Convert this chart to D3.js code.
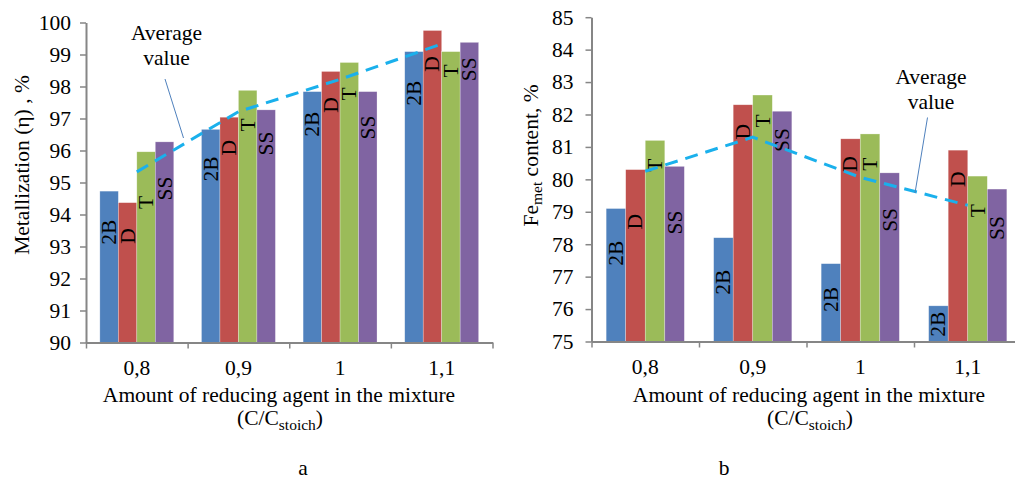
<!DOCTYPE html>
<html>
<head>
<meta charset="utf-8">
<script src="https://cdn.jsdelivr.net/npm/d3@7"></script>
<style>
  html, body { margin: 0; padding: 0; background: #fff; }
  svg { display: block; }
  text { font-family: "Liberation Serif", "Times New Roman", serif; fill: #000; }
</style>
</head>
<body>
<svg id="chart" width="1015" height="481"></svg>
<script>
// Reducing agent amount (C/C_stoich) and coal types
const categories = ["0,8", "0,9", "1", "1,1"];
const seriesNames = ["2B", "D", "T", "SS"];

// (a) Metallization, %
const metal2B = [94.73, 96.66, 97.84, 99.09];
const metalD  = [94.37, 97.04, 98.47, 99.75];
const metalT  = [95.96, 97.88, 98.75, 99.09];
const metalSS = [96.27, 97.27, 97.84, 99.38];

// (b) Metallic iron content, %
const fe2B = [79.1, 78.2, 77.4, 76.1];
const feD  = [80.3, 82.3, 81.25, 80.9];
const feT  = [81.2, 82.6, 81.4, 80.1];
const feSS = [80.4, 82.1, 80.2, 79.7];

const yTicksA = [90, 91, 92, 93, 94, 95, 96, 97, 98, 99, 100];
const yTicksB = [75, 76, 77, 78, 79, 80, 81, 82, 83, 84, 85];

// Where each rotated series label sits along its bar (value units)
const labelSpotA = [
  [93.45, 95.42, 96.82, 97.79],
  [93.33, 96.09, 97.42, 98.70],
  [94.38, 96.80, 97.77, 98.49],
  [94.81, 96.22, 96.72, 98.54]
];
const labelSpotB = [
  [77.72, 76.83, 76.30, 75.53],
  [78.69, 81.47, 80.47, 80.00],
  [80.44, 81.80, 80.47, 79.03],
  [78.67, 81.21, 78.75, 78.50]
];

const colors = ["#4F81BD", "#C0504D", "#9BBB59", "#8064A2"];
const axisColor = "#868686";
const avgColor = "#1AB0EC";
const FS = 21.5;

const svg = d3.select("#chart");

function drawPanel(cfg) {
  const g = svg.append("g");
  const x = d3.scaleBand().domain(categories).range(cfg.xRange).padding(0);
  const bw = x.bandwidth();
  const xs = d3.scaleBand().domain(seriesNames)
    .range([bw * 0.75 / 5.5, bw * 4.75 / 5.5]).padding(0);
  const y = d3.scaleLinear().domain(cfg.yDomain).range(cfg.yRange);

  // bars
  cfg.series.forEach((vals, si) => {
    g.append("g").selectAll("rect").data(vals).join("rect")
      .attr("x", (d, i) => x(categories[i]) + xs(seriesNames[si]))
      .attr("width", xs.bandwidth())
      .attr("y", d => y(d))
      .attr("height", d => y(cfg.yDomain[0]) - y(d))
      .attr("fill", colors[si])
      .attr("stroke", "rgba(255,255,255,0.45)")
      .attr("stroke-width", 0.6);
  });

  // rotated series labels inside bars
  cfg.series.forEach((vals, si) => {
    g.append("g").selectAll("text").data(vals).join("text")
      .attr("transform", (d, i) => {
        const cx = x(categories[i]) + xs(seriesNames[si]) + xs.bandwidth() / 2;
        return `translate(${cx},${y(cfg.labelSpot[si][i])}) rotate(-90)`;
      })
      .attr("text-anchor", "middle")
      .attr("dominant-baseline", "central")
      .style("font-size", FS + "px")
      .text(seriesNames[si]);
  });

  // y axis
  const yAxis = g.append("g")
    .attr("transform", `translate(${cfg.xRange[0]},0)`)
    .call(d3.axisLeft(y).tickValues(cfg.yTicks).tickFormat(d3.format("d"))
      .tickSize(6).tickSizeOuter(0).tickPadding(cfg.tickPad));
  yAxis.select(".domain").attr("stroke", axisColor).attr("stroke-width", 2);
  yAxis.selectAll(".tick line").attr("stroke", axisColor).attr("stroke-width", 1.5);
  yAxis.selectAll(".tick text").style("font-size", FS + "px")
    .style("font-family", "Liberation Serif").attr("fill", "#000");

  // x axis: boundary ticks between categories
  const xEdge = d3.scaleLinear().domain([0, categories.length]).range(cfg.xRange);
  const xAxis = g.append("g")
    .attr("transform", `translate(0,${y(cfg.yDomain[0])})`)
    .call(d3.axisBottom(xEdge).tickValues(d3.range(categories.length + 1))
      .tickFormat("").tickSize(6).tickSizeOuter(0));
  xAxis.select(".domain").attr("stroke", axisColor).attr("stroke-width", 2);
  xAxis.selectAll(".tick line").attr("stroke", axisColor).attr("stroke-width", 1.5);

  // category labels
  const xLab = g.append("g")
    .attr("transform", `translate(0,${y(cfg.yDomain[0])})`)
    .call(d3.axisBottom(x).tickSize(0).tickPadding(0));
  xLab.select(".domain").remove();
  xLab.selectAll(".tick text")
    .attr("y", cfg.catBaseline - y(cfg.yDomain[0]))
    .attr("dy", 0)
    .style("font-size", FS + "px")
    .style("font-family", "Liberation Serif").attr("fill", "#000");

  // average line across coal types
  const avg = categories.map((c, i) => d3.mean(cfg.series, s => s[i]));
  g.append("path")
    .datum(avg)
    .attr("fill", "none")
    .attr("stroke", avgColor)
    .attr("stroke-width", 3)
    .attr("stroke-dasharray", "13,8")
    .attr("d", d3.line().x((d, i) => x(categories[i]) + bw / 2).y(d => y(d)));

  // annotation
  g.append("line")
    .attr("x1", cfg.pointer[0]).attr("y1", cfg.pointer[1])
    .attr("x2", cfg.pointer[2]).attr("y2", cfg.pointer[3])
    .attr("stroke", "#4F81BD").attr("stroke-width", 1);
  const ann = g.append("text").attr("text-anchor", "middle").style("font-size", FS + "px");
  ann.append("tspan").attr("x", cfg.annX).attr("y", cfg.annY).text("Average");
  ann.append("tspan").attr("x", cfg.annX).attr("y", cfg.annY + 25).text("value");

  // y title
  const yt = g.append("text")
    .attr("transform", `translate(${cfg.yTitlePos[0]},${cfg.yTitlePos[1]}) rotate(-90)`)
    .attr("text-anchor", "middle")
    .attr("dominant-baseline", "central")
    .style("font-size", FS + "px");
  cfg.yTitle(yt);

  // x title
  const xt = g.append("text").attr("text-anchor", "middle").style("font-size", FS + "px");
  xt.append("tspan").attr("x", cfg.xTitleX).attr("y", 401.5)
    .text("Amount of reducing agent in the mixture");
  const l2 = g.append("text").attr("text-anchor", "middle").style("font-size", FS + "px")
    .attr("x", cfg.xTitleX + 1).attr("y", 425);
  l2.append("tspan").text("(C/C");
  l2.append("tspan").attr("dy", 5).style("font-size", "15.5px").text("stoich");
  l2.append("tspan").attr("dy", -5).text(")");

  // panel letter
  g.append("text").attr("x", cfg.letterX).attr("y", 475)
    .attr("text-anchor", "middle").style("font-size", FS + "px").text(cfg.letter);
}

drawPanel({
  xRange: [86, 492.5],
  yDomain: [90, 100],
  yRange: [342.5, 22.5],
  yTicks: yTicksA,
  tickPad: 9,
  series: [metal2B, metalD, metalT, metalSS],
  labelSpot: labelSpotA,
  catBaseline: 375,
  pointer: [165, 79, 183.5, 138],
  annX: 166.5, annY: 40,
  yTitlePos: [22, 165],
  yTitle: t => t.text("Metallization (η) , %"),
  xTitleX: 279,
  letter: "a", letterX: 303
});

drawPanel({
  xRange: [591.5, 1021.5],
  yDomain: [75, 85],
  yRange: [341.5, 17.2],
  yTicks: yTicksB,
  tickPad: 12,
  series: [fe2B, feD, feT, feSS],
  labelSpot: labelSpotB,
  catBaseline: 373.5,
  pointer: [927.5, 117.5, 915, 193],
  annX: 931, annY: 83.5,
  yTitlePos: [531, 155.5],
  yTitle: t => {
    t.append("tspan").text("Fe");
    t.append("tspan").attr("dy", 5).style("font-size", "15.5px").text("met");
    t.append("tspan").attr("dy", -5).text(" content, %");
  },
  xTitleX: 809,
  letter: "b", letterX: 724
});
</script>
</body>
</html>
